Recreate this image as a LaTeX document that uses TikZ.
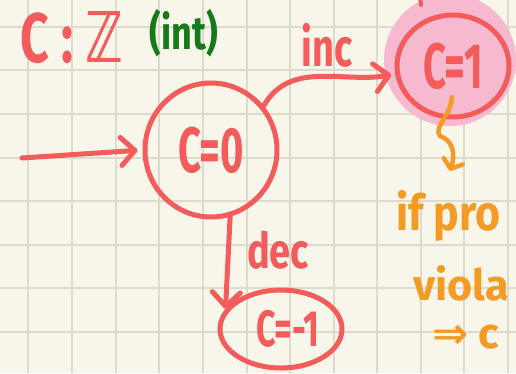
\documentclass[tikz,border=0pt]{standalone}
\usepackage{fontspec}
\setmainfont{Fira Sans}
\newfontfamily\dejavu{DejaVu Sans}
\usepackage{graphicx}
\usetikzlibrary{arrows.meta,shapes.geometric}
\definecolor{paper}{HTML}{F8F6EA}
\definecolor{gridc}{HTML}{DEDBCE}
\definecolor{ink}{HTML}{F45B5B}
\definecolor{hl}{HTML}{F6B9D0}
\definecolor{grn}{HTML}{177A1A}
\definecolor{org}{HTML}{F39B25}
\newcommand{\hw}[2][1.5]{\scalebox{1}[#1]{#2}}
\begin{document}
\begin{tikzpicture}[x=1pt,y=1pt,
  state/.style={ellipse, draw=ink, line width=5pt, inner sep=0pt, text=ink},
  lbl/.style={text=ink, inner sep=0pt},
  edge/.style={draw=ink, line width=5pt, line cap=round, -{Straight Barb[length=14pt,width=28pt,round]}},
  note/.style={text=org, inner sep=0pt, anchor=west, font=\fontsize{43}{43}\selectfont\bfseries}]
\useasboundingbox (0,0) rectangle (516,373);
\clip (0,0) rectangle (516,373);
\fill[paper] (0,0) rectangle (516,373);
\foreach \x in {28,72,116,159,203,247,290,334,377,421,464,508}
  \draw[gridc, line width=2pt] (\x,0) -- (\x,373);
\foreach \y in {27,70,114,158,201,245,288,332}
  \draw[gridc, line width=2pt] (0,373-\y) -- (516,373-\y);
% highlight
\fill[hl] (450,313) circle[radius=66];
\draw[ink, line width=4pt, line cap=round] (420,376) -- (421,368);
% states
\node[state, minimum width=132pt, minimum height=134pt, font=\fontsize{40}{40}\selectfont\bfseries] (c0) at (211,223) {\hw[1.6]{C=0}};
\node[state, minimum width=112pt, minimum height=102pt, font=\fontsize{40}{40}\selectfont\bfseries] (c1) at (453,307) {\hw[1.6]{C=1}};
\node[state, minimum width=122pt, minimum height=78pt, font=\fontsize{34}{34}\selectfont\bfseries] (cm1) at (281,44) {\hspace*{14pt}\hw[1.5]{C=-1}};
% labels
\node[lbl, font=\fontsize{50}{50}\selectfont\bfseries] (typ) at (72,335) {\hw[1.4]{C : {\dejavu\bfseries ℤ}}};
\node[lbl, text=grn, font=\fontsize{36}{36}\selectfont\bfseries] (int) at (184,340) {\hw[1.3]{(int)}};
\node[lbl, font=\fontsize{38}{38}\selectfont\bfseries] (inc) at (327,328) {\hw[1.4]{inc}};
\node[lbl, font=\fontsize{38}{38}\selectfont\bfseries] (dec) at (278,123) {\hw[1.3]{dec}};
\node[note] (n1) at (396,157) {\hw[1.15]{if pro}};
\node[note] (n2) at (413,90) {\hw[1.0]{viola}};
\node[note] (n3) at (432,36) {\hw[1.0]{{\dejavu\bfseries ⇒} c}};
% connectors
\coordinate (in0) at (22,215);
\draw[edge, shorten >=5pt] (in0) -- (c0.west);
\draw[edge, shorten >=4pt] (c0.40) to[out=60,in=190] (c1.188);
\draw[edge] (c0.-74) -- (cm1.160);
\coordinate (sq) at (452,276);
\coordinate (sqe) at (450,202);
\draw[org, line width=4.5pt, line cap=round, -{Straight Barb[length=8pt,width=20pt,round]}]
  (sq) .. controls (450,255) and (433,246) .. (440,237) .. controls (452,233) and (456,220) .. (sqe);
\end{tikzpicture}
\end{document}
